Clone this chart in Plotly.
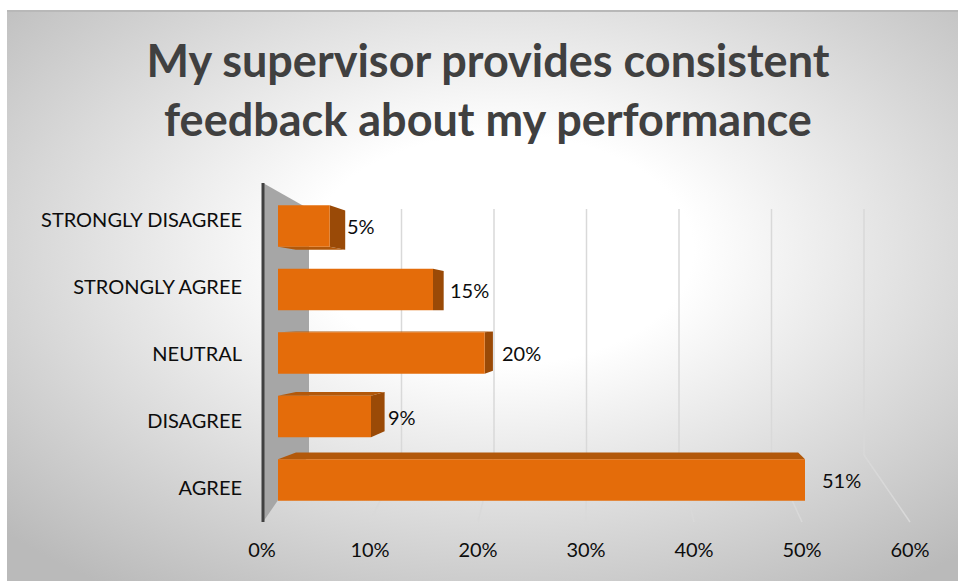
import base64
import plotly.graph_objects as go

# ---------------- data ----------------
categories = ["AGREE", "DISAGREE", "NEUTRAL", "STRONGLY AGREE", "STRONGLY DISAGREE"]
values = [0.51, 0.09, 0.20, 0.15, 0.05]
value_labels = ["51%", "9%", "20%", "15%", "5%"]
tick_values = [0.0, 0.1, 0.2, 0.3, 0.4, 0.5, 0.6]
title_text = "My supervisor provides consistent<br>feedback about my performance"

W, H = 958, 581
FONT = "Lato"


def fx(px):
    return px / W


def fy(py):
    return 1 - py / H


# ---------------- background (radial gradient) ----------------
svg = f'''<svg xmlns="http://www.w3.org/2000/svg" width="{W}" height="{H}" viewBox="0 0 {W} {H}" preserveAspectRatio="none">
<defs><radialGradient id="g" cx="0.52" cy="0.42" r="0.72">
<stop offset="0" stop-color="#ffffff"/><stop offset="0.28" stop-color="#ffffff"/>
<stop offset="1" stop-color="#bababa"/></radialGradient></defs>
<rect x="0" y="0" width="{W}" height="{H}" fill="#ffffff"/>
<rect x="7" y="10" width="{W-7}" height="{H-10}" fill="url(#g)"/>
<line x1="7" y1="11" x2="{W}" y2="11" stroke="#b8b8b8" stroke-width="2"/>
</svg>'''
bg_src = "data:image/svg+xml;base64," + base64.b64encode(svg.encode()).decode()

fig = go.Figure()

# front faces of bars
fig.add_trace(go.Bar(
    x=values, y=categories, orientation="h", width=0.65,
    marker=dict(color="#E46C0A", line=dict(width=0)),
    xaxis="x", yaxis="y", hoverinfo="skip", showlegend=False,
))

# invisible helper traces for label axes
fig.add_trace(go.Scatter(x=[0, 0], y=[categories[0], categories[-1]], mode="markers",
                         marker=dict(opacity=0), xaxis="x2", yaxis="y2",
                         hoverinfo="skip", showlegend=False))
fig.add_trace(go.Scatter(x=[tick_values[0], tick_values[-1]], y=[0, 0], mode="markers",
                         marker=dict(opacity=0), xaxis="x3", yaxis="y3",
                         hoverinfo="skip", showlegend=False))

shapes = []
# back-wall gridlines and floor lines (3D frame decoration)
for t in tick_values[1:]:
    bx = 309 + 925 * t
    fxp = 262 + 1080 * t
    shapes.append(dict(type="line", xref="paper", yref="paper", x0=fx(bx), x1=fx(bx),
                       y0=fy(209), y1=fy(455), line=dict(color="#d9d9d9", width=1.5), layer="below"))
    shapes.append(dict(type="line", xref="paper", yref="paper", x0=fx(bx), x1=fx(fxp),
                       y0=fy(455), y1=fy(522), line=dict(color="#d9d9d9", width=1.5), layer="below"))

# side wall
wall = f"M {fx(263)} {fy(183)} L {fx(309)} {fy(209)} L {fx(309)} {fy(455)} L {fx(263)} {fy(522)} Z"
shapes.append(dict(type="path", xref="paper", yref="paper", path=wall,
                   fillcolor="#a6a6a6", line=dict(width=0), layer="below"))
shapes.append(dict(type="line", xref="paper", yref="paper", x0=fx(263), x1=fx(263),
                   y0=fy(183), y1=fy(522), line=dict(color="#404040", width=3), layer="below"))

# 3D faces of bars (perspective toward a vanishing point)
k, vx, vy, h = 0.047, 0.37, 2.63, 0.325


def back(x, y):
    return x + k * (vx - x), y + k * (vy - y)


def poly(pts):
    return "M " + " L ".join(f"{a} {b}" for a, b in pts) + " Z"


for i, v in enumerate(values):
    top, bot = i + h, i - h
    if top < vy:
        pts = [(0, top), (v, top), back(v, top), back(0, top)]
        shapes.append(dict(type="path", xref="x", yref="y", path=poly(pts),
                           fillcolor="#b2580a", line=dict(width=0), layer="below"))
    if bot > vy:
        pts = [(0, bot), (v, bot), back(v, bot), back(0, bot)]
        shapes.append(dict(type="path", xref="x", yref="y", path=poly(pts),
                           fillcolor="#b2580a", line=dict(width=0), layer="below"))
    if v < vx:
        pts = [(v, bot), (v, top), back(v, top), back(v, bot)]
        shapes.append(dict(type="path", xref="x", yref="y", path=poly(pts),
                           fillcolor="#9a4a07", line=dict(width=0), layer="below"))

annotations = []
for c, v, lab in zip(categories, values, value_labels):
    annotations.append(dict(x=v, y=c, xref="x", yref="y", text=lab, showarrow=False,
                            xanchor="left", yanchor="middle", xshift=15,
                            font=dict(family=FONT, size=20, color="#0d0d0d")))

fig.update_layout(
    template="none",
    width=W, height=H, margin=dict(l=0, r=0, t=0, b=0, pad=0), autosize=False,
    paper_bgcolor="white", plot_bgcolor="rgba(0,0,0,0)",
    font=dict(family=FONT, color="#0d0d0d"),
    images=[dict(source=bg_src, xref="paper", yref="paper", x=0, y=1, sizex=1, sizey=1,
                 sizing="stretch", layer="below", xanchor="left", yanchor="top")],
    title=dict(text=title_text, x=488 / W, xanchor="center", y=fy(77), yanchor="middle",
               yref="container", automargin=False,
               font=dict(family=FONT, size=45, color="#404040", weight="bold")),
    xaxis=dict(domain=[fx(278), fx(898)], range=[0, 0.6], visible=False, automargin=False),
    yaxis=dict(domain=[fy(511.75), fy(194.25)], range=[-0.5, 4.5], type="category",
               categoryorder="array", categoryarray=categories, visible=False, automargin=False),
    xaxis2=dict(domain=[0, 0.1], visible=False, anchor="y2", automargin=False),
    yaxis2=dict(domain=[fy(521.5), fy(186.5)], range=[-0.5, 4.5], type="category",
                categoryorder="array", categoryarray=categories, anchor="free",
                position=fx(242), side="left", showgrid=False, showline=False,
                zeroline=False, ticks="", ticklabelstandoff=0, automargin=False,
                tickfont=dict(family=FONT, size=20, color="#0d0d0d")),
    xaxis3=dict(domain=[fx(262), fx(910)], range=[0, 0.6], tickvals=tick_values,
                tickformat=".0%", anchor="free", position=fy(536), showgrid=False,
                showline=False, zeroline=False, ticks="", automargin=False,
                tickfont=dict(family=FONT, size=20, color="#0d0d0d")),
    yaxis3=dict(domain=[0, 1], range=[-1, 1], visible=False, anchor="x3", automargin=False),
    shapes=shapes, annotations=annotations, showlegend=False,
)

fig.write_html("out.html", config={"displayModeBar": False, "staticPlot": True},
               post_script="document.body.style.margin='0';document.body.style.overflow='hidden';")
